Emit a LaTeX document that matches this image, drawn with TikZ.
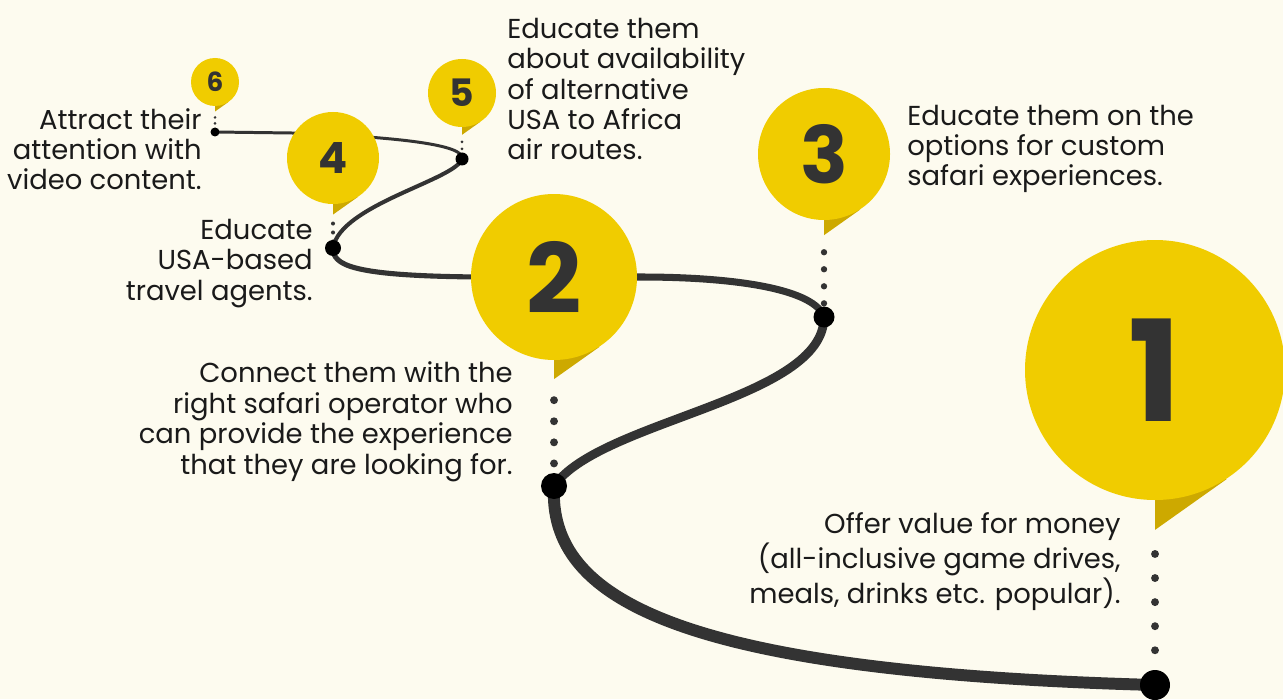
\documentclass[tikz,border=0pt]{standalone}
\usepackage{fontspec}
\setmainfont{Poppins}

\definecolor{cream}{HTML}{FDFBEF}
\definecolor{pinyellow}{HTML}{F0CC00}
\definecolor{pintail}{HTML}{CDA900}
\definecolor{roaddark}{HTML}{333333}
\definecolor{inkblack}{HTML}{1A1A1A}

\tikzset{
  road/.style={draw=roaddark, line cap=round},
  pin/.style={circle, fill=pinyellow, inner sep=0pt, text=roaddark},
  stop/.style={circle, fill=black, inner sep=0pt},
  leader/.style={roaddark, line cap=round},
  steptext/.style={inner sep=0pt, text=inkblack, font=\fontsize{15.6pt}{17.3pt}\selectfont}
}

\begin{document}
\begin{tikzpicture}[x=0.02cm, y=-0.02cm]
    % Background
    \fill[cream] (0,0) rectangle (1283,699);
    \useasboundingbox (0,0) rectangle (1283,699);

    % Stops on the road
    \foreach \i/\x/\y in {1/1155/685, 2/554/486, 3/824/317, 4/333/248, 5/462/159, 6/215/132}
      \coordinate (d\i) at (\x,\y);

    % Straight parts of the road
    \coordinate (r1) at (292,133);
    \coordinate (r2) at (480,277);
    \coordinate (r3) at (640,277);

    % Draw the road, thin at 6 and thick at 1
    \draw[road, line width=1.7pt] (d6) -- (r1) .. controls (400,137) and (466,145) .. (d5);
    \draw[road, line width=2.3pt] (d5) .. controls (455,180) and (340,205) .. (d4);
    \draw[road, line width=2.9pt] (d4) .. controls (333,265) and (350,276) .. (r2);
    \draw[road, line width=4pt] (r2) -- (r3) .. controls (740,277) and (815,290) .. (d3);
    \draw[road, line width=5pt] (d3) .. controls (824,400) and (600,420) .. (d2);
    \draw[road, line width=6.8pt] (d2) .. controls (548,600) and (680,672) .. (d1);

    % Pins: tail first, then the disc with its number
    \foreach \i/\x/\y/\r/\fs in {1/1155/370/130/80, 2/554/277/83/55, 3/824/154/66/45, 4/333/158/46/24.5, 5/462/93/34/21.5, 6/215/82/24/15} {
      \fill[pintail] (\x,{\y+0.8*\r}) -- (\x,{\y+1.23*\r}) coordinate (t\i) -- ({\x+0.55*\r},{\y+0.84*\r}) -- cycle;
      \node[pin, minimum size=2*\r*0.02cm, font=\fontsize{\fs}{\fs}\selectfont\bfseries] (p\i) at (\x,\y) {\i};
    }

    % Dotted leaders from pins down to the road
    \foreach \i/\w/\s in {1/4.5/13.7, 2/4.5/12, 3/3.6/9.7, 4/2.3/5.1, 5/1.8/4, 6/1.7/3.4}
      \draw[leader, line width=\w pt, dash pattern=on 0pt off \s pt, shorten <=\s pt] (t\i) -- (d\i);

    % Dots on the road
    \foreach \i/\r in {1/15, 2/13, 3/10.5, 4/8, 5/6.5, 6/4.5}
      \node[stop, minimum size=2*\r*0.02cm] (s\i) at (d\i) {};

    % Texts, placed by the baseline of their last line
    \node[steptext, align=right, anchor=base east] (c1) at (1121,603) {Offer value for money\\(all-inclusive game drives,\\meals, drinks etc. popular).};
    \node[steptext, align=right, anchor=base east] (c2) at (513,474) {Connect them with the\\right safari operator who\\can provide the experience\\that they are looking for.};
    \node[steptext, align=left, anchor=base west] (c3) at (907,186) {Educate them on the\\options for custom\\safari experiences.};
    \node[steptext, align=right, anchor=base east] (c4) at (313,300) {Educate\\USA-based\\travel agents.};
    \node[steptext, align=left, anchor=base west] (c5) at (507,160) {Educate them\\about availability\\of alternative\\USA to Africa\\air routes.};
    \node[steptext, align=right, anchor=base east] (c6) at (202,190) {Attract their\\attention with\\video content.};
\end{tikzpicture}
\end{document}
